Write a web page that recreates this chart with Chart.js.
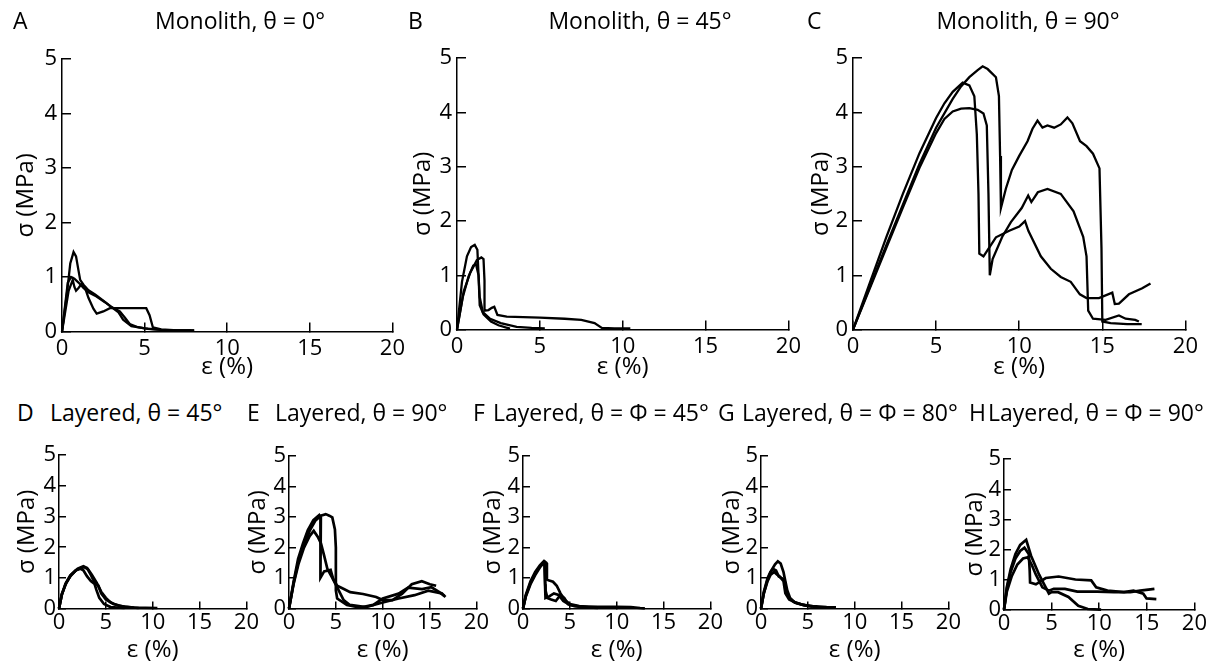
<!DOCTYPE html>
<html>
<head>
<meta charset="utf-8">
<script src="https://cdn.jsdelivr.net/npm/chart.js@4.4.1/dist/chart.umd.min.js"></script>
<style>
  body { margin: 0; background: #fff; width: 1217px; height: 670px; position: relative; overflow: hidden; font-family: "Open Sans", sans-serif; color: #000; }
  canvas { position: absolute; }
  .lbl { position: absolute; font-size: 23px; line-height: 28px; white-space: nowrap; transform: translateY(-50%); }
  .ctr { transform: translate(-50%, -50%); }
</style>
</head>
<body>
<script>
// axis ticks shared by every panel
const strainTicks = [0, 5, 10, 15, 20];
const stressTicks = [0, 1, 2, 3, 4, 5];

const panelLetters = ['A', 'B', 'C', 'D', 'E', 'F', 'G', 'H'];
const panelTitles = ['Monolith, θ = 0°', 'Monolith, θ = 45°', 'Monolith, θ = 90°',
    'Layered, θ = 45°', 'Layered, θ = 90°', 'Layered, θ = Φ = 45°', 'Layered, θ = Φ = 80°', 'Layered, θ = Φ = 90°'];

// [strain %, stress MPa]
const curveA1 = [[0,0],[0.3,0.7],[0.5,1.25],[0.7,1.46],[0.85,1.38],[1.0,1.12],[1.1,0.95],[1.3,0.86],[1.6,0.76],[2.0,0.68],[2.5,0.57],[3.0,0.45],[3.4,0.36],[3.7,0.22],[4.2,0.1],[5,0.06],[6,0.03],[7,0.02],[8,0.02]];
const curveA2 = [[0,0],[0.4,0.75],[0.65,0.95],[0.75,0.82],[0.85,0.75],[1.0,0.8],[1.2,0.88],[1.4,0.8],[1.6,0.62],[1.9,0.42],[2.1,0.33],[2.5,0.37],[2.9,0.43],[4,0.43],[5.1,0.43],[5.3,0.3],[5.5,0.08],[6,0.04],[7,0.02],[8,0.02]];
const curveA3 = [[0,0],[0.35,0.9],[0.55,1.0],[0.75,0.97],[1.0,0.9],[1.3,0.8],[1.6,0.72],[2.0,0.66],[2.6,0.54],[3.0,0.45],[3.5,0.37],[3.8,0.26],[4.1,0.14],[4.6,0.08],[5.2,0.05],[6,0.03],[7,0.02],[7.8,0.02]];

const curveB1 = [[0,0],[0.3,0.88],[0.6,1.35],[0.85,1.52],[1.07,1.56],[1.23,1.47],[1.3,1.0],[1.37,0.6],[1.56,0.32],[2.0,0.2],[2.64,0.12],[3.6,0.05],[4.5,0.03],[5.3,0.02]];
const curveB2 = [[0,0],[0.4,0.7],[0.8,1.05],[1.2,1.28],[1.47,1.33],[1.6,1.3],[1.66,0.9],[1.66,0.35],[1.9,0.36],[2.1,0.4],[2.25,0.42],[2.44,0.27],[3,0.24],[4,0.23],[5,0.22],[6.5,0.2],[7.5,0.18],[8.3,0.12],[8.74,0.03],[9.5,0.02],[10.46,0.02]];
const curveB3 = [[0,0],[0.35,0.6],[0.7,0.98],[0.98,1.18],[1.15,1.2],[1.3,1.0],[1.37,0.45],[1.6,0.28],[2.05,0.15],[2.5,0.08],[2.93,0.04],[3.2,0.02]];

const curveC1 = [[0,0],[1,0.85],[2,1.7],[3,2.5],[4,3.25],[5,3.9],[5.5,4.17],[6,4.38],[6.6,4.55],[7.0,4.5],[7.3,4.3],[7.45,3.6],[7.55,2.5],[7.6,1.4],[7.85,1.35],[8.6,1.7],[9.4,1.82],[10.0,1.9],[10.35,2.0],[10.55,1.82],[11.3,1.35],[11.9,1.12],[12.5,0.97],[13.1,0.88],[13.65,0.65],[14.05,0.58],[14.8,0.58],[15.6,0.68],[15.75,0.47],[16.0,0.48],[16.6,0.65],[17.4,0.76],[17.9,0.85]];
const curveC2 = [[0,0],[1,0.78],[2,1.55],[3,2.3],[4,3.05],[5,3.72],[6,4.25],[6.5,4.48],[7,4.65],[7.5,4.78],[7.8,4.85],[8.1,4.8],[8.6,4.65],[8.78,4.3],[8.85,3.2],[8.9,2.24],[9.2,2.6],[9.56,2.94],[10.0,3.2],[10.5,3.47],[10.8,3.7],[11.1,3.85],[11.4,3.72],[11.7,3.76],[12.1,3.72],[12.5,3.78],[12.9,3.91],[13.2,3.8],[13.66,3.47],[14.05,3.38],[14.44,3.24],[14.83,2.97],[14.95,1.5],[15.0,0.15],[15.5,0.12],[16.5,0.1],[17.37,0.1]];
const curveC3 = [[0,0],[1,0.75],[2,1.5],[3,2.25],[4,2.98],[5,3.62],[5.5,3.88],[6,4.02],[6.5,4.07],[7.0,4.08],[7.5,4.05],[7.85,3.98],[8.05,3.76],[8.15,2.5],[8.23,1.0],[8.4,1.3],[8.98,1.71],[9.5,1.98],[10.15,2.24],[10.54,2.47],[10.73,2.35],[11.12,2.53],[11.7,2.59],[12.5,2.5],[13.27,2.18],[13.85,1.71],[14.05,1.35],[14.15,0.35],[14.44,0.2],[15.2,0.18],[16.0,0.26],[16.4,0.2],[16.98,0.18],[17.2,0.15]];

const curveD1 = [[0,0],[0.3,0.45],[0.7,0.8],[1.2,1.05],[1.8,1.25],[2.3,1.32],[2.7,1.35],[3.1,1.28],[3.5,1.1],[4,0.85],[4.5,0.55],[5,0.35],[5.5,0.2],[6.5,0.08],[8,0.03],[10.5,0.02]];
const curveD2 = [[0,0],[0.3,0.45],[0.7,0.82],[1.2,1.08],[1.8,1.25],[2.3,1.3],[2.6,1.25],[3.0,1.05],[3.4,0.9],[3.8,0.8],[4.0,0.6],[4.3,0.35],[4.8,0.15],[5.5,0.05],[7,0.02]];
const curveD3 = [[0,0],[0.3,0.48],[0.8,0.85],[1.3,1.1],[2,1.3],[2.6,1.38],[3.0,1.32],[3.4,1.1],[3.8,0.85],[4.2,0.75],[4.5,0.5],[5,0.3],[5.8,0.15],[7,0.06],[8.5,0.02]];

const curveE1 = [[0,0],[0.5,0.9],[0.97,1.63],[1.5,2.15],[2.0,2.57],[2.6,2.9],[3.23,3.07],[3.4,2.99],[3.38,2.0],[3.33,1.01],[3.75,1.22],[4.44,1.27],[4.6,1.1],[4.72,0.97],[5.14,0.75],[5.8,0.65],[6.53,0.54],[7.9,0.48],[9.3,0.38],[10,0.28],[11.04,0.28],[12.08,0.49],[13.1,0.8],[14.17,0.9],[15.03,0.8],[15.7,0.75]];
const curveE2 = [[0,0],[0.5,0.85],[1.0,1.55],[1.6,2.1],[2.2,2.55],[2.8,2.88],[3.4,3.05],[3.92,3.1],[4.3,3.05],[4.62,2.99],[4.9,2.6],[5.0,2.0],[5.0,0.6],[5.14,0.33],[6.18,0.12],[7.6,0.03],[9.0,0.12],[10,0.33],[11.7,0.49],[12.7,0.69],[14.2,0.64],[15.2,0.7],[16,0.55],[16.6,0.41]];
const curveE3 = [[0,0],[0.5,0.82],[1.0,1.45],[1.6,2.0],[2.2,2.38],[2.64,2.55],[3.06,2.36],[3.4,2.15],[3.75,1.74],[4.1,1.3],[4.62,1.01],[5.14,0.7],[5.83,0.28],[6.5,0.12],[8.2,0.05],[10,0.2],[11.7,0.33],[13.4,0.44],[14.86,0.59],[16.3,0.5],[16.7,0.38]];

const curveF1 = [[0,0],[0.3,0.45],[0.8,0.9],[1.3,1.2],[1.8,1.42],[2.2,1.55],[2.3,1.5],[2.35,0.8],[2.4,0.35],[2.8,0.4],[3.3,0.5],[3.8,0.45],[4.3,0.25],[5,0.12],[6,0.07],[8,0.06],[10,0.06],[11.5,0.05],[12.5,0.02],[13,0.01]];
const curveF2 = [[0,0],[0.3,0.42],[0.8,0.85],[1.3,1.15],[1.8,1.38],[2.3,1.55],[2.5,1.5],[2.55,0.95],[2.8,0.92],[3.2,0.88],[3.6,0.75],[4.0,0.5],[4.4,0.3],[5,0.15],[6,0.08],[7,0.04],[8,0.02]];
const curveF3 = [[0,0],[0.3,0.4],[0.8,0.8],[1.3,1.1],[1.8,1.35],[2.2,1.5],[2.3,1.45],[2.4,0.6],[2.6,0.35],[3.0,0.3],[3.5,0.25],[4.0,0.45],[4.4,0.35],[4.8,0.15],[5.5,0.08],[6.5,0.05],[7.5,0.03]];

const curveG1 = [[0,0],[0.3,0.5],[0.7,0.95],[1.1,1.25],[1.5,1.45],[1.8,1.55],[2.1,1.48],[2.4,1.2],[2.6,0.9],[2.8,0.6],[3.1,0.35],[3.6,0.2],[4.5,0.12],[5.5,0.08],[7,0.05],[8,0.04]];
const curveG2 = [[0,0],[0.3,0.55],[0.7,1.0],[1.0,1.2],[1.3,1.3],[1.6,1.25],[1.9,1.05],[2.2,1.0],[2.5,0.95],[2.7,0.6],[3.0,0.35],[3.5,0.22],[4.5,0.12],[5.5,0.06]];
const curveG3 = [[0,0],[0.3,0.5],[0.7,0.9],[1.0,1.1],[1.4,1.2],[1.7,1.12],[2.0,1.05],[2.4,0.9],[2.6,0.5],[3.0,0.3],[3.8,0.18],[4.8,0.1],[6,0.05],[7.2,0.03]];

const curveH1 = [[0,0],[0.3,0.75],[0.7,1.35],[1.2,1.85],[1.7,2.15],[2.33,2.32],[2.84,1.79],[3.69,1.16],[4.38,0.74],[4.72,0.53],[5.0,0.58],[5.68,0.58],[6.77,0.42],[7.8,0.13],[8.8,0.02],[10.2,0.0]];
const curveH2 = [[0,0],[0.3,0.7],[0.7,1.25],[1.2,1.7],[1.7,1.95],[2.15,2.06],[2.6,1.85],[2.7,1.3],[2.74,0.9],[3.35,0.84],[4.38,1.05],[5.74,1.1],[7.5,1.0],[9.16,0.97],[9.68,0.74],[10.87,0.63],[12.6,0.58],[13.6,0.63],[14.63,0.53],[14.97,0.37],[16.0,0.35]];
const curveH3 = [[0,0],[0.3,0.6],[0.8,1.1],[1.4,1.5],[2.0,1.7],[2.5,1.74],[2.9,1.5],[3.35,1.16],[4.03,0.74],[4.72,0.63],[5.23,0.69],[6.4,0.69],[7.7,0.6],[9.8,0.6],[11.56,0.58],[13.27,0.58],[14.3,0.63],[15.8,0.69]];

const panelCurves = [
    [curveA1, curveA2, curveA3], [curveB1, curveB2, curveB3], [curveC1, curveC2, curveC3],
    [curveD1, curveD2, curveD3], [curveE1, curveE2, curveE3], [curveF1, curveF2, curveF3],
    [curveG1, curveG2, curveG3], [curveH1, curveH2, curveH3]
];

// page layout: plot box (L,T,R,B), y title centre, letter/title text spots
const rows = [
    { tick: 9, gapY: 5, gapX: 4, tickFont: 22, lw: 2.3, xTitleY: 368 },
    { tick: 7, gapY: 3, gapX: 1, tickFont: 22, lw: 2.7, xTitleY: 651 }
];
const boxes = [
    { L: 62, T: 48, R: 402, B: 332, ytx: 26, row: 0, letterX: 13, letterY: 20, titleX: 240, titleY: 20, centre: true },
    { L: 457, T: 47, R: 798, B: 330, ytx: 423, row: 0, letterX: 408, letterY: 20, titleX: 640, titleY: 20, centre: true },
    { L: 853, T: 47, R: 1195, B: 330, ytx: 821, row: 0, letterX: 807, letterY: 20, titleX: 1028, titleY: 20, centre: true },
    { L: 59, T: 448, R: 251, B: 609, ytx: 27, row: 1, letterX: 17, letterY: 412, titleX: 50, titleY: 412 },
    { L: 289, T: 449, R: 481, B: 609, ytx: 258, row: 1, letterX: 247, letterY: 412, titleX: 275, titleY: 412 },
    { L: 523, T: 449, R: 715, B: 609, ytx: 493, row: 1, letterX: 473, letterY: 412, titleX: 493, titleY: 412 },
    { L: 761, T: 449, R: 953, B: 609, ytx: 732, row: 1, letterX: 718, letterY: 412, titleX: 742, titleY: 412 },
    { L: 1004, T: 452, R: 1199, B: 610, ytx: 975, row: 1, letterX: 969, letterY: 412, titleX: 988, titleY: 412 }
];

function addText(text, x, y, centre) {
    let d = document.createElement('div');
    d.className = centre ? 'lbl ctr' : 'lbl';
    d.textContent = text;
    d.style.left = x + 'px';
    d.style.top = y + 'px';
    document.body.appendChild(d);
}

function makePanel(i) {
    let b = boxes[i];
    let row = rows[b.row];
    let padTop = 16;
    let padRight = 16;
    let left = b.ytx - 18;
    let yw = b.L - left;
    let xh = row.xTitleY - b.B + 14.4;

    let cv = document.createElement('canvas');
    cv.width = Math.round(b.R - b.L + yw + padRight);
    cv.height = Math.round(padTop + (b.B - b.T) + xh);
    cv.style.left = left + 'px';
    cv.style.top = (b.T - padTop) + 'px';
    document.body.appendChild(cv);

    let tickFont = { family: 'Open Sans', size: row.tickFont };
    let titleFont = { family: 'Open Sans', size: 24 };

    new Chart(cv, {
        type: 'scatter',
        data: {
            datasets: panelCurves[i].map(c => ({
                data: c.map(p => ({ x: p[0], y: p[1] })),
                showLine: true,
                borderColor: '#000',
                borderWidth: row.lw,
                pointRadius: 0,
                tension: 0,
                fill: false,
                clip: 4
            }))
        },
        options: {
            responsive: false,
            animation: false,
            devicePixelRatio: 1,
            layout: { padding: { top: padTop, right: padRight, left: 0, bottom: 0 } },
            plugins: { legend: { display: false }, tooltip: { enabled: false } },
            scales: {
                x: {
                    type: 'linear', min: 0, max: 20,
                    afterBuildTicks: s => { s.ticks = strainTicks.map(v => ({ value: v })); },
                    afterFit: s => { s.height = xh; },
                    grid: { drawOnChartArea: false, drawTicks: true, tickLength: -row.tick, color: '#000', lineWidth: 1.5 },
                    border: { display: true, color: '#000', width: 1.5 },
                    ticks: { color: '#000', font: tickFont, padding: row.tick + row.gapX, maxRotation: 0, autoSkip: false },
                    title: { display: true, text: 'ε (%)', color: '#000', font: titleFont, padding: { top: 0, bottom: 0 } }
                },
                y: {
                    type: 'linear', min: 0, max: 5,
                    afterBuildTicks: s => { s.ticks = stressTicks.map(v => ({ value: v })); },
                    afterFit: s => { s.width = yw; },
                    grid: { drawOnChartArea: false, drawTicks: true, tickLength: -row.tick, color: '#000', lineWidth: 1.5 },
                    border: { display: true, color: '#000', width: 1.5 },
                    ticks: { color: '#000', font: tickFont, padding: row.tick + row.gapY, autoSkip: false },
                    title: { display: true, text: 'σ (MPa)', color: '#000', font: titleFont, padding: { top: 18 - 14.4, bottom: 0 } }
                }
            }
        }
    });

    addText(panelLetters[i], b.letterX, b.letterY, false);
    addText(panelTitles[i], b.titleX, b.titleY, b.centre);
}

for (let i = 0; i < boxes.length; i++) {
    makePanel(i);
}
</script>
</body>
</html>
